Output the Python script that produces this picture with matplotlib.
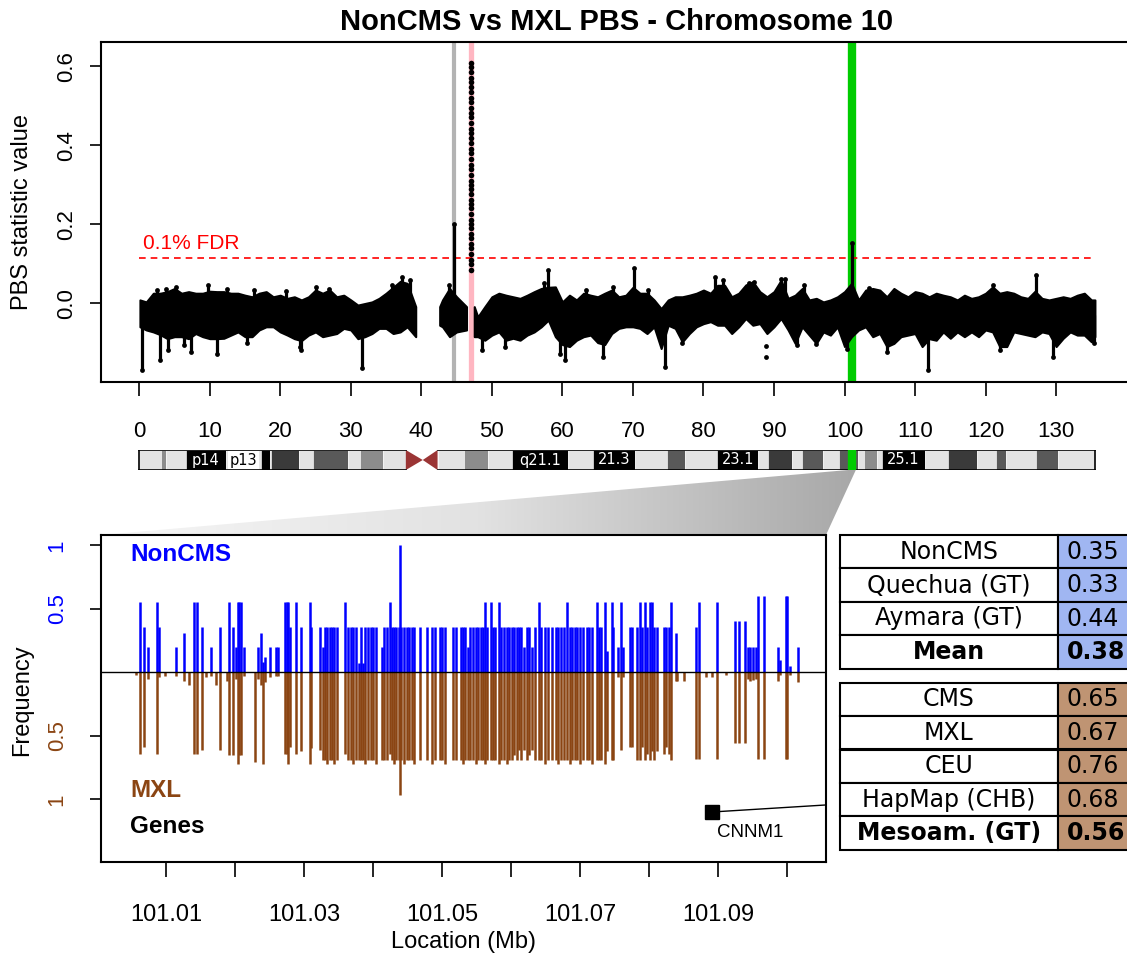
import numpy as np
import matplotlib
matplotlib.use("Agg")
import matplotlib.pyplot as plt
from matplotlib.patches import Rectangle, Polygon
from matplotlib.colors import LinearSegmentedColormap

plt.rcParams['font.family'] = ['Liberation Sans', 'DejaVu Sans']

# ---------------- data: PBS genome scan (envelope of the dot cloud, read per Mb) ----------------
seg1_mb = [0.1] + list(range(1, 39)) + [39.2]
seg1_hi = [0.008, 0.003, 0.025, 0.025, 0.029, 0.037, 0.025, 0.029, 0.025, 0.025,
           0.030, 0.029, 0.029, 0.025, 0.025, 0.020, 0.016, 0.025, 0.029, 0.016,
           0.020, 0.012, 0.016, 0.008, 0.016, 0.033, 0.025, 0.033, 0.016, 0.020,
           0.008, -0.005, -0.001, 0.003, 0.012, 0.025, 0.040, 0.055, 0.050, -0.009]
seg1_lo = [-0.060, -0.068, -0.073, -0.080, -0.090, -0.085, -0.085, -0.090, -0.077, -0.085,
           -0.090, -0.090, -0.089, -0.081, -0.073, -0.085, -0.085, -0.068, -0.060, -0.060,
           -0.073, -0.081, -0.090, -0.095, -0.081, -0.073, -0.085, -0.081, -0.077, -0.064,
           -0.068, -0.090, -0.085, -0.077, -0.064, -0.064, -0.077, -0.073, -0.060, -0.085]

seg2_mb = [42.6, 43, 44, 45, 46.4]
seg2_hi = [-0.009, 0.008, 0.037, 0.016, -0.009]
seg2_lo = [-0.056, -0.060, -0.085, -0.073, -0.068]

seg3_mb = [47.5] + list(range(48, 136)) + [135.5]
seg3_hi = [-0.009, -0.035, -0.009, 0.016, 0.025, 0.020, 0.016, 0.012, 0.020, 0.029,
           0.037, 0.040, 0.041, 0.003, 0.020, 0.008, 0.025, 0.020, 0.016, 0.025,
           0.033, 0.016, 0.020, 0.040, 0.025, 0.025, 0.008, -0.014, 0.008, 0.016,
           0.016, 0.020, 0.025, 0.033, 0.025, 0.045, 0.045, 0.016, 0.025, 0.046,
           0.054, 0.029, 0.016, 0.029, 0.058, 0.012, 0.020, 0.037, 0.008, 0.012,
           0.003, 0.008, 0.016, 0.029, 0.050, 0.008, 0.033, 0.037, 0.033, 0.016,
           0.037, 0.025, 0.016, 0.029, 0.025, 0.016, 0.025, 0.020, 0.016, 0.008,
           0.020, 0.012, 0.016, 0.025, 0.041, 0.025, 0.029, 0.025, 0.016, 0.012,
           0.030, 0.012, 0.008, 0.012, 0.016, 0.012, 0.020, 0.025, 0.008, 0.008]
seg3_lo = [-0.085, -0.085, -0.094, -0.081, -0.073, -0.094, -0.089, -0.094, -0.081, -0.073,
           -0.060, -0.043, -0.085, -0.105, -0.110, -0.094, -0.085, -0.081, -0.100, -0.105,
           -0.077, -0.064, -0.060, -0.060, -0.064, -0.077, -0.060, -0.115, -0.056, -0.064,
           -0.098, -0.077, -0.060, -0.052, -0.047, -0.056, -0.056, -0.077, -0.060, -0.039,
           -0.056, -0.052, -0.077, -0.060, -0.039, -0.068, -0.102, -0.060, -0.081, -0.102,
           -0.073, -0.081, -0.060, -0.110, -0.085, -0.068, -0.060, -0.085, -0.077, -0.110,
           -0.102, -0.085, -0.081, -0.077, -0.110, -0.090, -0.094, -0.073, -0.089, -0.073,
           -0.085, -0.073, -0.085, -0.068, -0.073, -0.110, -0.110, -0.073, -0.077, -0.081,
           -0.085, -0.073, -0.077, -0.110, -0.089, -0.073, -0.081, -0.081, -0.098, -0.085]

spike_up_mb = [2.5, 3.8, 5.2, 9.7, 12.5, 16.3, 20.8, 25.0, 26.9, 35.8, 37.2, 38.4, 43.9,
               44.65, 57.4, 58.0, 63.4, 67.2, 70.1, 72.1, 81.7, 82.7, 86.5, 87.2, 91.0,
               91.6, 94.3, 101.05, 103.5, 121.0, 127.2]
spike_up_val = [0.033, 0.035, 0.040, 0.046, 0.035, 0.033, 0.030, 0.040, 0.035, 0.046, 0.067,
                0.058, 0.045, 0.200, 0.050, 0.085, 0.033, 0.040, 0.088, 0.033, 0.067, 0.058,
                0.050, 0.054, 0.062, 0.062, 0.045, 0.152, 0.037, 0.045, 0.071]
spike_dn_mb = [0.4, 3.0, 4.1, 6.3, 7.4, 11.0, 15.3, 22.8, 23.0, 31.6, 48.6, 51.8, 59.7,
               60.4, 65.8, 74.6, 77.0, 93.2, 96.0, 100.3, 106.0, 111.8, 122.0, 129.6, 135.3]
spike_dn_val = [-0.170, -0.144, -0.120, -0.105, -0.123, -0.128, -0.100, -0.110, -0.119,
                -0.165, -0.120, -0.110, -0.128, -0.144, -0.136, -0.161, -0.100, -0.105,
                -0.104, -0.115, -0.123, -0.170, -0.120, -0.136, -0.100]
outlier_mb = [88.9, 88.9]
outlier_val = [-0.108, -0.136]

pink_mb = [47.0] * 42
pink_val = [0.607, 0.598, 0.585, 0.570, 0.560, 0.548, 0.535, 0.520, 0.510, 0.495, 0.480,
            0.470, 0.455, 0.440, 0.430, 0.418, 0.405, 0.390, 0.380, 0.365, 0.350, 0.340,
            0.325, 0.310, 0.300, 0.290, 0.275, 0.260, 0.250, 0.240, 0.225, 0.210, 0.200,
            0.190, 0.175, 0.165, 0.150, 0.140, 0.125, 0.110, 0.100, 0.085]

fdr = 0.114
chrom_len = 135.5
mark_gray, mark_pink, mark_green = 44.65, 47.0, 101.05

# ---------------- data: cytobands ----------------
band_start = [0, 3.1, 3.8, 6.6, 12.3, 17.3, 18.6, 18.75, 22.6, 24.6, 29.6, 31.3, 34.5,
              42.3, 46.0, 49.5, 52.9, 60.8, 64.4, 70.3, 74.8, 77.4, 81.9, 87.8, 89.1,
              92.6, 93.9, 96.9, 99.2, 101.9, 102.8, 104.6, 105.3, 111.4, 114.6, 118.8,
              121.5, 122.9, 127.2, 130.3]
band_end = band_start[1:] + [135.5]
band_end[12] = 37.8
band_stain = ['gneg', 'gpos25', 'gneg', 'gpos100', 'gneg', 'gpos100', 'gneg', 'gpos75',
              'gneg', 'gpos50', 'gneg', 'gpos25', 'gneg', 'gneg', 'gpos25', 'gneg',
              'gpos100', 'gneg', 'gpos100', 'gneg', 'gpos50', 'gneg', 'gpos100', 'gneg',
              'gpos75', 'gneg', 'gpos50', 'gneg', 'gpos50', 'gneg', 'gpos25', 'gneg',
              'gpos100', 'gneg', 'gpos75', 'gneg', 'gpos50', 'gneg', 'gpos50', 'gneg']
cen_start, cen_mid, cen_end = 37.8, 40.2, 42.3
band_labels = ['p14', 'p13', 'q21.1', '21.3', '23.1', '25.1']
band_label_mb = [9.45, 14.8, 56.85, 67.35, 84.85, 108.35]

# ---------------- data: allele frequencies in the zoomed region (kb from 101.000 Mb) ----------------
snp_kb = [5.6, 6.2, 6.8, 7.4, 8.7, 9.0, 9.8, 11.5, 12.6, 13.3, 14.0, 14.5, 15.2, 15.8, 16.5,
          17.2, 17.8, 18.9, 19.2, 19.7, 20.2, 20.4, 20.6, 20.9, 21.3, 22.9, 23.3, 23.8, 24.1,
          24.4, 25.1, 26.0, 26.3, 27.2, 27.5, 27.7, 28.0, 28.8, 29.6, 30.8, 31.0,
          32.3, 32.7, 33.0, 33.4, 33.8, 34.1, 34.4, 34.8, 36.0, 36.4, 36.8, 37.1, 37.5, 37.9,
          38.2, 38.6, 38.9, 39.3, 39.7, 40.0, 40.4, 41.3, 41.6, 42.0, 42.4, 42.7, 43.0, 43.4,
          43.8, 43.9, 44.1, 44.5, 44.9, 45.2, 45.6, 45.9, 46.8, 47.8, 48.6, 49.0, 49.7, 50.0,
          50.4, 51.6, 52.0, 52.7, 53.1, 53.4, 53.8, 54.1, 54.5, 54.9, 55.2, 55.6, 55.9, 56.3,
          56.5, 57.1, 57.4, 57.7, 58.2, 58.6, 59.0, 59.4, 59.7, 60.1, 60.4, 60.8, 61.1, 61.5,
          61.9, 62.3, 62.6, 63.0, 63.5, 64.1, 64.4, 64.9, 65.4, 66.0, 66.5, 66.8, 67.3, 67.7,
          68.1, 68.5, 68.9, 69.3, 69.6, 70.0, 70.4, 71.0, 71.3, 71.8, 72.4, 72.8, 73.1, 73.6,
          73.9, 74.6, 74.8, 75.5, 76.0, 76.3, 77.2, 77.5, 78.2, 78.7, 79.0, 79.4, 79.7, 80.1,
          80.4, 80.7, 81.1, 82.1, 82.5, 82.9, 83.2, 83.9, 84.1, 85.0, 86.8, 87.2, 88.3, 89.2,
          89.9, 91.2, 92.5, 93.1, 93.9, 94.4, 94.7, 95.1, 95.5, 95.8, 96.6, 98.7, 99.0, 99.8,
          100.0, 100.5, 101.6]
noncms_freq = [0, .556, .354, .2, .556, .354, 0, .2, .31, 0, .556, .556, .354, 0, .2,
               0, .354, 0, .556, .354, .2, .556, .556, .556, .2, 0, .2, .31, .08,
               .12, .2, .2, .2, .556, .556, .556, .354, .556, .354, .556, .354,
               .354, .2, .354, .354, .354, .354, .354, .354, .556, .354, .354, .354, .354, .07,
               .354, .07, .354, .354, .354, .354, .354, .2, .354, .354, .556, .354, .354, .354,
               .354, 1.0, .354, .354, .354, .354, .354, .354, .354, .354, .354, .354, .354, .354,
               .354, .354, .354, .354, .354, .354, .2, .354, .354, .354, .354, .354, .354, .556,
               .354, .556, .354, .354, .556, .354, .354, .354, .354, .354, .354, .354, .354, .354,
               .2, .354, .354, .2, .354, .556, .354, .354, .354, .354, .354, .354, .354, .354,
               .556, .354, .354, .354, .354, .354, .354, .354, .354, .354, .556, .354, .354, .556,
               .17, .556, .354, .2, .556, .2, .354, .354, .354, .556, .354, .556, .354, .556,
               .556, .354, .354, .354, .354, .354, .556, .31, 0, 0, .354, .556, 0, 0,
               .556, 0, .40, .40, .40, .2, .2, .2, .2, .6, .6, .2, .1, .6,
               .6, .05, .2]
mxl_freq = [.02, .64, .59, .05, .64, .04, .03, .03, .07, .10, .64, .64, .61, .04, .03,
            .10, .61, .07, .65, .65, .05, .72, .65, .65, .03, .71, .05, .10, .72,
            .08, .04, .03, .03, .64, .64, .72, .59, .64, .62, .72, .60,
            .61, .69, .69, .72, .69, .69, .72, .69, .64, .69, .69, .72, .69, .69,
            .69, .69, .72, .69, .69, .69, .72, .69, .69, .69, .64, .69, .72, .69,
            .69, .965, .69, .72, .69, .69, .69, .72, .69, .69, .72, .69, .69, .69,
            .72, .69, .69, .69, .72, .69, .69, .69, .69, .72, .69, .69, .69, .72,
            .69, .69, .69, .69, .72, .69, .69, .72, .69, .69, .65, .69, .61, .69,
            .61, .69, .65, .61, .69, .69, .69, .72, .69, .69, .69, .72, .69, .69,
            .69, .72, .69, .69, .69, .72, .69, .69, .69, .72, .69, .69, .69, .72,
            .62, .69, .69, .04, .61, .04, .59, .59, .69, .69, .59, .69, .64, .69,
            .62, .69, .62, .64, .59, .64, .69, .07, .07, .07, .68, .68, .04, .04,
            .68, .02, .56, .56, .56, .05, .07, .06, .05, .68, .68, .07, .02, .68,
            .68, .02, .08]

gene_name = 'CNNM1'
gene_start_kb, gene_end_kb = 89.2, 105.6

# ---------------- data: tables ----------------
tab1_names = ['NonCMS', 'Quechua (GT)', 'Aymara (GT)', 'Mean']
tab1_vals = [0.35, 0.33, 0.44, 0.38]
tab2_names = ['CMS', 'MXL', 'CEU', 'HapMap (CHB)', 'Mesoam. (GT)']
tab2_vals = [0.65, 0.67, 0.76, 0.68, 0.56]

# ---------------- figure ----------------
W, H = 1127, 956
fig = plt.figure(figsize=(W / 100, H / 100), dpi=100)


def px_axes(l, t, r, b, **kw):
    return fig.add_axes([l / W, 1 - b / H, (r - l) / W, (b - t) / H], **kw)


# ---- top: PBS scan ----
ax1 = px_axes(101, 42, 1133, 381.7)
ax1.set_xlim(-5.42, 140.9)
ax1.set_ylim(-0.199, 0.661)
ax1.axvline(mark_gray, color='#b3b3b3', lw=3, zorder=0)
ax1.axvline(mark_pink, color='#ffb6c1', lw=3.8, zorder=0)
ax1.axvline(mark_green, color='#00cc00', lw=6, zorder=0)

for mb, hi, lo in [(seg1_mb, seg1_hi, seg1_lo), (seg2_mb, seg2_hi, seg2_lo),
                   (seg3_mb, seg3_hi, seg3_lo)]:
    ax1.fill_between(mb, lo, hi, color='k', lw=1.5, zorder=2)
ax1.vlines(spike_up_mb, -0.03, spike_up_val, colors='k', lw=2.3, zorder=2)
ax1.vlines(spike_dn_mb, -0.03, spike_dn_val, colors='k', lw=2.3, zorder=2)
ax1.scatter(spike_up_mb + spike_dn_mb + outlier_mb, spike_up_val + spike_dn_val + outlier_val,
            s=12, color='k', zorder=3, lw=0)
ax1.scatter(pink_mb, pink_val, s=16, color='k', zorder=3, lw=0)

ax1.hlines(fdr, 0, chrom_len, colors='red', linestyles=(0, (4, 3)), lw=1.2, zorder=1)
ax1.text(0.5, fdr + 0.038, '0.1% FDR', color='red', fontsize=15, ha='left', va='center')

ax1.set_xticks(np.arange(0, 131, 10))
ax1.set_yticks([0.0, 0.2, 0.4, 0.6])
ax1.set_yticklabels(['0.0', '0.2', '0.4', '0.6'], rotation=90, va='center')
ax1.tick_params(axis='x', length=10, width=1.2, pad=18, labelsize=16)
ax1.tick_params(axis='y', length=8, width=1.2, pad=9, labelsize=16)
for s in ax1.spines.values():
    s.set_linewidth(1.5)

# ---- ideogram ----
ax2 = px_axes(101, 450, 1133, 470)
ax2.set_xlim(ax1.get_xlim())
ax2.set_ylim(0, 1)
ax2.axis('off')
stain_col = {'gneg': '#e3e3e3', 'gpos25': '#8c8c8c', 'gpos50': '#595959',
             'gpos75': '#3a3a3a', 'gpos100': '#000000'}
for s0, s1, st in zip(band_start, band_end, band_stain):
    ax2.add_patch(Rectangle((s0, 0), s1 - s0, 1, fc=stain_col[st], ec='white', lw=0.4))
ax2.add_patch(Polygon([(cen_start, 0), (cen_start, 1), (cen_mid, 0.5)], fc='#9b3535', ec='none'))
ax2.add_patch(Polygon([(cen_end, 0), (cen_end, 1), (cen_mid, 0.5)], fc='#9b3535', ec='none'))
ax2.plot([0, cen_start], [1, 1], color='k', lw=1.2)
ax2.plot([0, cen_start], [0, 0], color='k', lw=1.2)
ax2.plot([cen_end, chrom_len], [1, 1], color='k', lw=1.2)
ax2.plot([cen_end, chrom_len], [0, 0], color='k', lw=1.2)
ax2.plot([0, 0], [0, 1], color='k', lw=1.2)
ax2.plot([chrom_len, chrom_len], [0, 1], color='k', lw=1.2)
ax2.axvline(mark_green, color='#00cc00', lw=6)
for lab, mb in zip(band_labels, band_label_mb):
    if lab == 'p13':
        ax2.text(mb, 0.5, lab, color='k', fontsize=10.5, ha='center', va='center',
                 family='DejaVu Sans',
                 bbox=dict(fc='white', ec='none', pad=1.2))
    else:
        ax2.text(mb, 0.5, lab, color='white', fontsize=10.5, ha='center', va='center',
                 family='DejaVu Sans')

# ---- bottom: allele frequency bars ----
ax3 = px_axes(101, 535, 826, 862)
ax3.set_xlim(101.00058, 101.10565)
ax3.set_ylim(-1.494, 1.081)
snp_mb = 101 + np.array(snp_kb) / 1000
ax3.vlines(snp_mb, 0, noncms_freq, colors='#0000ff', lw=1.8)
ax3.vlines(snp_mb, 0, -np.array(mxl_freq), colors='#8b4513', lw=1.8)
ax3.axhline(0, color='k', lw=1)

g0, g1 = 101 + gene_start_kb / 1000, 101 + gene_end_kb / 1000
ax3.plot([g0, g1], [-1.1, -1.045], color='k', lw=1, clip_on=True)
ax3.plot([g0], [-1.1], marker='s', ms=10, color='k')
ax3.text(g0 + 0.0054, -1.26, gene_name, fontsize=13.5, ha='center', va='center')

ax3.text(0.04, 0.939, 'NonCMS', color='#0000ff', fontsize=17.5, weight='bold',
         transform=ax3.transAxes, va='center')
ax3.text(0.04, 0.22, 'MXL', color='#8b4513', fontsize=17.5, weight='bold',
         transform=ax3.transAxes, va='center')
ax3.text(0.04, 0.11, 'Genes', color='k', fontsize=17.5, weight='bold',
         transform=ax3.transAxes, va='center')

xt = np.round(np.arange(101.01, 101.1001, 0.01), 2)
ax3.set_xticks(xt)
ax3.set_xticklabels([f'{v:.2f}' if i % 2 == 0 else '' for i, v in enumerate(xt)])
ax3.tick_params(axis='x', length=11, width=1.2, pad=19, labelsize=17)
ax3.set_xlabel('Location (Mb)', fontsize=17, labelpad=4)
ax3.set_yticks([-1, -0.5, 0.5, 1])
ax3.set_yticklabels(['1', '0.5', '0.5', '1'], rotation=90, va='center')
ax3.tick_params(axis='y', length=8, width=1.2, pad=16, labelsize=16)
ycols = ['#8b4513', '#8b4513', '#0000ff', '#0000ff']
for tk, lab, c in zip(ax3.yaxis.get_major_ticks(), ax3.get_yticklabels(), ycols):
    tk.tick1line.set_color(c)
    lab.set_color(c)
for s in ax3.spines.values():
    s.set_linewidth(1.5)

# ---- connector wedge between ideogram and zoom panel ----
fig.canvas.draw()
axc = fig.add_axes([0, 0, 1, 1], zorder=-1)
axc.set_xlim(0, W)
axc.set_ylim(0, H)
axc.axis('off')
p_tl = ax2.transData.transform((mark_green - 0.55, 0))
p_tr = ax2.transData.transform((mark_green + 0.55, 0))
p_br = ax3.transAxes.transform((1, 1))
p_bl = ax3.transAxes.transform((0, 1))
wedge = Polygon([p_tl, p_tr, p_br, p_bl], closed=True, fc='none', ec='none')
axc.add_patch(wedge)
grad = np.linspace(0, 1, 256).reshape(1, -1)
cmap = LinearSegmentedColormap.from_list('wedge', ['#f6f6f6', '#e2e2e2', '#a8a8a8'])
im = axc.imshow(grad, extent=[p_bl[0], p_tr[0], p_bl[1], p_tl[1]], cmap=cmap,
                aspect='auto', origin='lower')
im.set_clip_path(wedge)

# ---- tables ----
axt = px_axes(840, 535, 1131, 851)
axt.set_xlim(0, 291)
axt.set_ylim(316, 0)
axt.axis('off')
split, row_h = 217.7, 33.4


def draw_table(y0, names, vals, fill):
    for i, (n, v) in enumerate(zip(names, vals)):
        top = y0 + i * row_h
        axt.add_patch(Rectangle((0, top), split, row_h, fc='white', ec='k', lw=1.5,
                                clip_on=False))
        axt.add_patch(Rectangle((split, top), 291 - split + 10, row_h, fc=fill, ec='k',
                                lw=1.5, clip_on=False))
        wt = 'bold' if i == len(names) - 1 else 'normal'
        axt.text(split / 2, top + row_h / 2, n, ha='center', va='center', fontsize=17,
                 family='DejaVu Sans', weight=wt)
        axt.text(split + 9, top + row_h / 2, f'{v:.2f}', ha='left', va='center',
                 fontsize=17, family='DejaVu Sans', weight=wt)


draw_table(0, tab1_names, tab1_vals, '#a0b6f2')
draw_table(147.7, tab2_names, tab2_vals, '#bf9473')

# ---- titles / axis labels ----
fig.text(617 / W, 1 - 22 / H, 'NonCMS vs MXL PBS - Chromosome 10', fontsize=21,
         weight='bold', ha='center', va='center')
fig.text(22 / W, 1 - 212 / H, 'PBS statistic value', rotation=90, fontsize=17,
         ha='center', va='center')
fig.text(22 / W, 1 - 700 / H, 'Frequency', rotation=90, fontsize=17,
         ha='center', va='center')

fig.savefig('out.png', dpi=100)
